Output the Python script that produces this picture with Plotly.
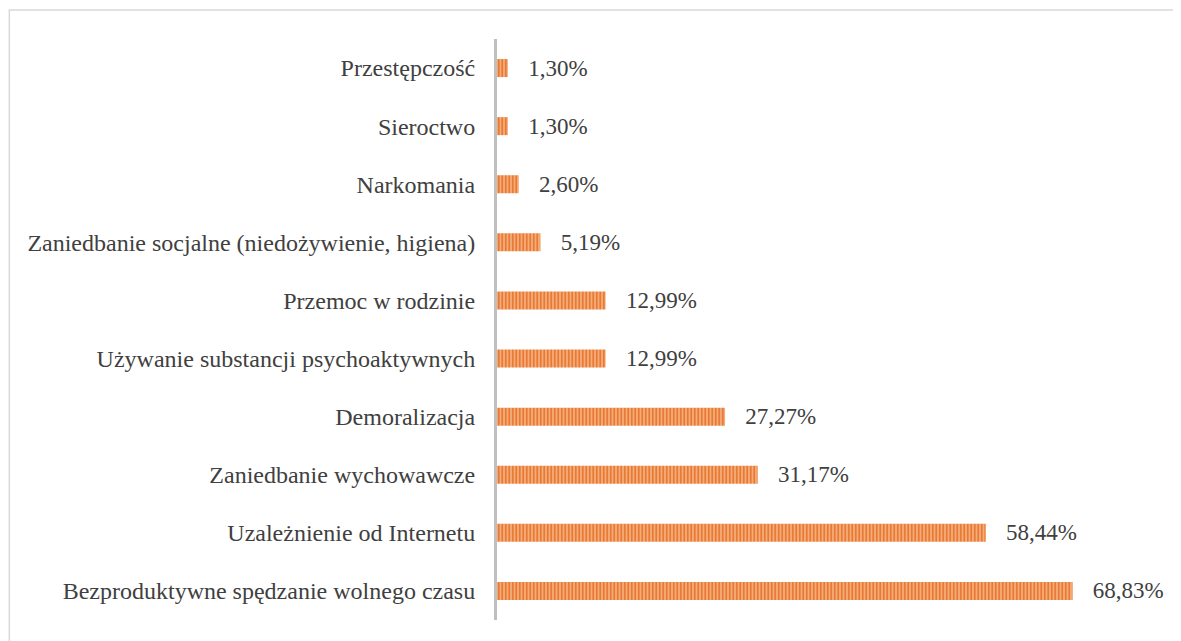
import plotly.graph_objects as go

categories = [
    "Przestępczość",
    "Sieroctwo",
    "Narkomania",
    "Zaniedbanie socjalne (niedożywienie, higiena)",
    "Przemoc w rodzinie",
    "Używanie substancji psychoaktywnych",
    "Demoralizacja",
    "Zaniedbanie wychowawcze",
    "Uzależnienie od Internetu",
    "Bezproduktywne spędzanie wolnego czasu",
]
values = [1.30, 1.30, 2.60, 5.19, 12.99, 12.99, 27.27, 31.17, 58.44, 68.83]
labels = ["1,30%", "1,30%", "2,60%", "5,19%", "12,99%", "12,99%", "27,27%", "31,17%", "58,44%", "68,83%"]

# page body has an 8px margin, so the figure is sized to fill the rest of the window
W, H = 1173, 633
L, T, B = 489, 31, 21
XMAX = 80
pw = XMAX * 8.368
R = W - L - pw
ph = H - T - B

lab_font = dict(family="Liberation Serif", size=23, color="#404040")

fig = go.Figure(go.Bar(
    x=values, y=categories, orientation="h",
    width=0.31,
    text=["   " + s for s in labels],
    textposition="outside",
    constraintext="none",
    cliponaxis=False,
    textfont=lab_font,
    outsidetextfont=lab_font,
    marker=dict(
        color="#ED7D31",
        line=dict(width=0),
        pattern=dict(shape="|", fgcolor="#E97A35", bgcolor="#F4AC78",
                      size=3.5, solidity=0.5, fillmode="replace"),
    ),
))

fig.update_layout(
    width=W, height=H,
    margin=dict(l=L, r=R, t=T, b=B, pad=0),
    paper_bgcolor="white", plot_bgcolor="white",
    showlegend=False,
    font=dict(family="Liberation Serif", size=24, color="#404040"),
    xaxis=dict(range=[0, XMAX], visible=False, showgrid=False, zeroline=False),
    yaxis=dict(autorange="reversed", showline=True, linecolor="#BFBFBF", linewidth=3,
               ticks="", showgrid=False, ticklabelstandoff=14,
               tickfont=dict(family="Liberation Serif", size=24, color="#404040")),
    shapes=[dict(type="rect", xref="paper", yref="paper",
                 x0=(1 - L) / pw, x1=(W + 20 - L) / pw,
                 y0=-(B + 20) / ph, y1=((H - B) - 2) / ph,
                 line=dict(color="#D9D9D9", width=1.5), layer="below")],
)

fig.write_html("out.html")
